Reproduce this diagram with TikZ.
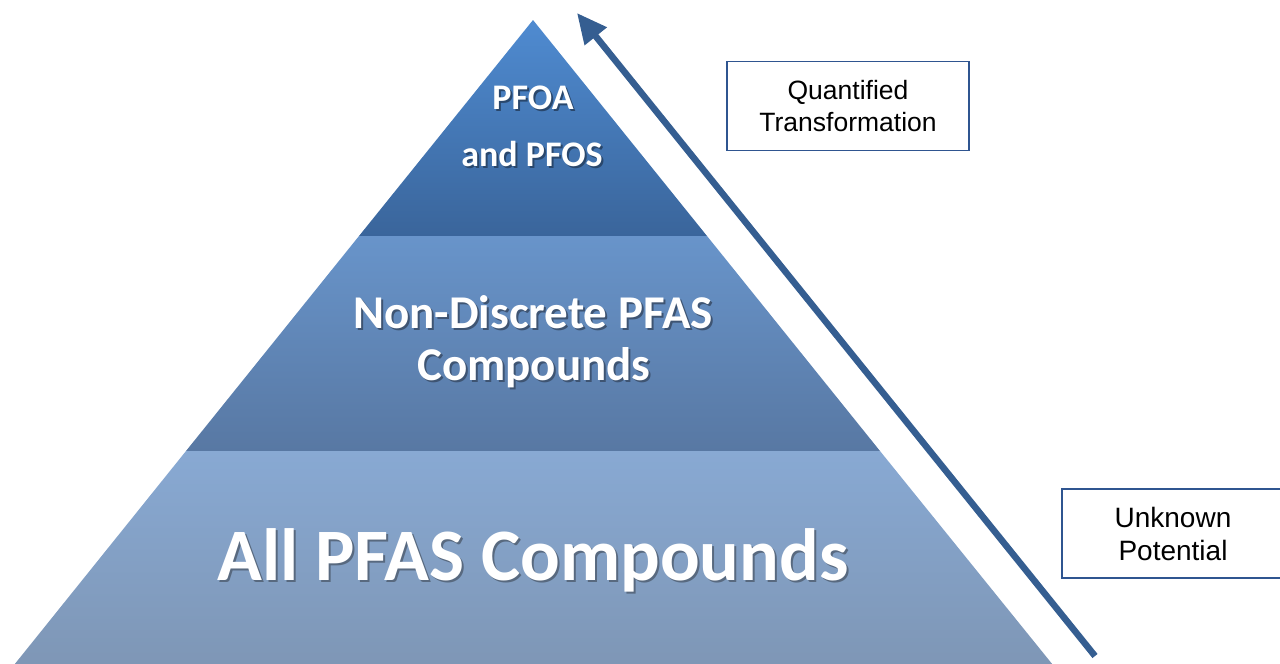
\documentclass[tikz,border=0pt]{standalone}
\usepackage{fontspec}
\setmainfont{Liberation Sans}
\newfontfamily\pyrfont{Carlito}
\usetikzlibrary{arrows.meta}
\definecolor{arrowblue}{HTML}{355E91}
\definecolor{boxblue}{HTML}{2F5590}
\definecolor{tAtop}{HTML}{4F8BD1}
\definecolor{tAbot}{HTML}{3A659B}
\definecolor{tBtop}{HTML}{6894CA}
\definecolor{tBbot}{HTML}{5878A3}
\definecolor{tCtop}{HTML}{88A9D3}
\definecolor{tCbot}{HTML}{7E96B5}
\colorlet{shA}{black!30!tAbot}
\colorlet{shB}{black!30!tBbot}
\colorlet{shC}{black!30!tCbot}
% text with a soft drop shadow, in one box
\newcommand{\shadowtext}[2]{\makebox[0pt][l]{\hspace{2pt}\raisebox{-2pt}{\textcolor{#1}{#2}}}#2}
\tikzset{
  labelbox/.style={draw=boxblue, line width=1.5pt, fill=white, align=center, inner sep=0pt},
  pyrtext/.style={text=white, align=center, inner sep=0pt, font=\pyrfont\bfseries},
  bigarrow/.style={draw=arrowblue, line width=6.5pt, -{Triangle[length=30pt,width=27pt]}}
}
\begin{document}
\begin{tikzpicture}[x=1pt,y=-1pt]
\useasboundingbox (0,0) rectangle (1280,664);
% pyramid tiers
\shade[top color=tAtop, bottom color=tAbot] (533,20) -- (707,236) -- (359,236) -- cycle;
\shade[top color=tBtop, bottom color=tBbot] (359,236) -- (707,236) -- (880,451) -- (186,451) -- cycle;
\shade[top color=tCtop, bottom color=tCbot] (186,451) -- (880,451) -- (1057,670) -- (10,670) -- cycle;
% pyramid texts
\node[pyrtext, anchor=base] (top1) at (533,109) {\fontsize{36}{40}\selectfont\shadowtext{shA}{PFOA}};
\node[pyrtext, anchor=base] (top2) at (532,166) {\fontsize{36}{40}\selectfont\shadowtext{shA}{and PFOS}};
\node[pyrtext, anchor=base] (mid1) at (533,328) {\fontsize{47}{50}\selectfont\shadowtext{shB}{Non-Discrete PFAS}};
\node[pyrtext, anchor=base] (mid2) at (534,380) {\fontsize{47}{50}\selectfont\shadowtext{shB}{Compounds}};
\node[pyrtext, anchor=base] (low) at (533,580) {\fontsize{74}{78}\selectfont\shadowtext{shC}{All PFAS Compounds}};
% arrow
\coordinate (tail) at (1095,656);
\coordinate (tip) at (577,13);
\draw[bigarrow] (tail) -- (tip);
% boxes
\node[labelbox, minimum width=242pt, minimum height=89pt, font=\fontsize{26.5}{32}\selectfont] (quant) at (848,106) {Quantified\\Transformation};
\node[labelbox, minimum width=222pt, minimum height=89pt, font=\fontsize{28}{33}\selectfont] (unk) at (1173,533.5) {Unknown\\Potential};
\end{tikzpicture}
\end{document}
